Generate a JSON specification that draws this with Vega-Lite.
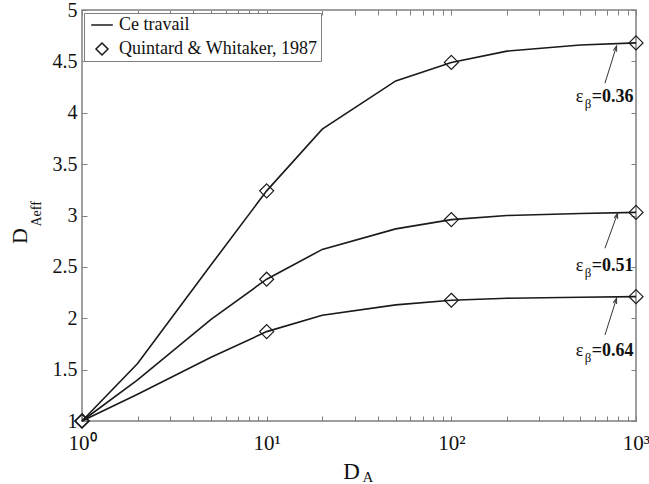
{
  "$schema": "https://vega.github.io/schema/vega-lite/v6.json",
  "width": 554,
  "height": 411,
  "autosize": "none",
  "padding": {"left": 82, "top": 10, "right": 13, "bottom": 63},
  "config": {
    "font": "Liberation Serif",
    "view": {"stroke": "#808080", "strokeWidth": 1.5},
    "axis": {
      "labelFont": "Liberation Serif, serif",
      "labelColor": "#111111",
      "labelFontSize": 20,
      "tickColor": "#808080",
      "tickWidth": 1,
      "tickSize": 5,
      "grid": false,
      "domain": false,
      "titleFont": "Liberation Serif",
      "titleFontWeight": "normal",
      "titleColor": "#111111"
    },
    "text": {"font": "Liberation Serif", "color": "#111111"},
    "legend": {"labelFont": "Liberation Serif"}
  },
  "datasets": {
    "curves": [
      {"D_A": 1, "D_Aeff": 1, "eps": "0.36", "source": "Ce travail"},
      {"D_A": 2, "D_Aeff": 1.56, "eps": "0.36", "source": "Ce travail"},
      {"D_A": 5, "D_Aeff": 2.52, "eps": "0.36", "source": "Ce travail"},
      {"D_A": 10, "D_Aeff": 3.24, "eps": "0.36", "source": "Ce travail"},
      {"D_A": 20, "D_Aeff": 3.84, "eps": "0.36", "source": "Ce travail"},
      {"D_A": 50, "D_Aeff": 4.31, "eps": "0.36", "source": "Ce travail"},
      {"D_A": 100, "D_Aeff": 4.49, "eps": "0.36", "source": "Ce travail"},
      {"D_A": 200, "D_Aeff": 4.60, "eps": "0.36", "source": "Ce travail"},
      {"D_A": 500, "D_Aeff": 4.66, "eps": "0.36", "source": "Ce travail"},
      {"D_A": 1000, "D_Aeff": 4.68, "eps": "0.36", "source": "Ce travail"},
      {"D_A": 1, "D_Aeff": 1, "eps": "0.51", "source": "Ce travail"},
      {"D_A": 2, "D_Aeff": 1.40, "eps": "0.51", "source": "Ce travail"},
      {"D_A": 5, "D_Aeff": 1.99, "eps": "0.51", "source": "Ce travail"},
      {"D_A": 10, "D_Aeff": 2.38, "eps": "0.51", "source": "Ce travail"},
      {"D_A": 20, "D_Aeff": 2.67, "eps": "0.51", "source": "Ce travail"},
      {"D_A": 50, "D_Aeff": 2.87, "eps": "0.51", "source": "Ce travail"},
      {"D_A": 100, "D_Aeff": 2.96, "eps": "0.51", "source": "Ce travail"},
      {"D_A": 200, "D_Aeff": 3.00, "eps": "0.51", "source": "Ce travail"},
      {"D_A": 500, "D_Aeff": 3.02, "eps": "0.51", "source": "Ce travail"},
      {"D_A": 1000, "D_Aeff": 3.03, "eps": "0.51", "source": "Ce travail"},
      {"D_A": 1, "D_Aeff": 1, "eps": "0.64", "source": "Ce travail"},
      {"D_A": 2, "D_Aeff": 1.26, "eps": "0.64", "source": "Ce travail"},
      {"D_A": 5, "D_Aeff": 1.62, "eps": "0.64", "source": "Ce travail"},
      {"D_A": 10, "D_Aeff": 1.87, "eps": "0.64", "source": "Ce travail"},
      {"D_A": 20, "D_Aeff": 2.03, "eps": "0.64", "source": "Ce travail"},
      {"D_A": 50, "D_Aeff": 2.13, "eps": "0.64", "source": "Ce travail"},
      {"D_A": 100, "D_Aeff": 2.175, "eps": "0.64", "source": "Ce travail"},
      {"D_A": 200, "D_Aeff": 2.195, "eps": "0.64", "source": "Ce travail"},
      {"D_A": 500, "D_Aeff": 2.205, "eps": "0.64", "source": "Ce travail"},
      {"D_A": 1000, "D_Aeff": 2.21, "eps": "0.64", "source": "Ce travail"}
    ],
    "points": [
      {"D_A": 1, "D_Aeff": 1, "eps": "0.36", "source": "Quintard & Whitaker, 1987"},
      {"D_A": 10, "D_Aeff": 3.24, "eps": "0.36", "source": "Quintard & Whitaker, 1987"},
      {"D_A": 100, "D_Aeff": 4.49, "eps": "0.36", "source": "Quintard & Whitaker, 1987"},
      {"D_A": 1000, "D_Aeff": 4.68, "eps": "0.36", "source": "Quintard & Whitaker, 1987"},
      {"D_A": 1, "D_Aeff": 1, "eps": "0.51", "source": "Quintard & Whitaker, 1987"},
      {"D_A": 10, "D_Aeff": 2.38, "eps": "0.51", "source": "Quintard & Whitaker, 1987"},
      {"D_A": 100, "D_Aeff": 2.96, "eps": "0.51", "source": "Quintard & Whitaker, 1987"},
      {"D_A": 1000, "D_Aeff": 3.03, "eps": "0.51", "source": "Quintard & Whitaker, 1987"},
      {"D_A": 1, "D_Aeff": 1, "eps": "0.64", "source": "Quintard & Whitaker, 1987"},
      {"D_A": 10, "D_Aeff": 1.87, "eps": "0.64", "source": "Quintard & Whitaker, 1987"},
      {"D_A": 100, "D_Aeff": 2.175, "eps": "0.64", "source": "Quintard & Whitaker, 1987"},
      {"D_A": 1000, "D_Aeff": 2.21, "eps": "0.64", "source": "Quintard & Whitaker, 1987"}
    ],
    "labels": [
      {"eps": "0.36", "label": "=0.36", "D_A": 968, "D_Aeff": 4.153},
      {"eps": "0.51", "label": "=0.51", "D_A": 968, "D_Aeff": 2.513},
      {"eps": "0.64", "label": "=0.64", "D_A": 968, "D_Aeff": 1.686}
    ],
    "arrows": [
      {"eps": "0.36", "x_from": 679, "y_from": 4.287, "x_to": 785, "y_to": 4.65},
      {"eps": "0.51", "x_from": 679, "y_from": 2.681, "x_to": 795, "y_to": 3.021},
      {"eps": "0.64", "x_from": 679, "y_from": 1.837, "x_to": 785, "y_to": 2.194}
    ]
  },
  "resolve": {"axis": {"x": "independent", "y": "independent"}},
  "layer": [
    {
      "data": {"name": "curves"},
      "mark": {"type": "line", "strokeWidth": 1.6},
      "encoding": {
        "x": {
          "field": "D_A", "type": "quantitative",
          "scale": {"type": "log", "domain": [1, 1000], "nice": false},
          "axis": {
            "orient": "bottom",
            "offset": -5,
            "values": [1,2,3,4,5,6,7,8,9,10,20,30,40,50,60,70,80,90,100,200,300,400,500,600,700,800,900,1000],
            "labelExpr": "datum.value == 1 ? '10⁰' : datum.value == 10 ? '10¹' : datum.value == 100 ? '10²' : datum.value == 1000 ? '10³' : ''",
            "labelFont": "Liberation Serif, serif",
            "labelFontSize": 21,
            "labelOverlap": false,
            "labelFlush": false,
            "labelBound": false,
            "labelPadding": 11,
            "title": "D",
            "titleFont": "Liberation Serif",
            "titleFontSize": 23,
            "titleX": 269,
            "titleY": 62,
            "titleAlign": "center",
            "titleBaseline": "alphabetic"
          }
        },
        "y": {
          "field": "D_Aeff", "type": "quantitative",
          "scale": {"domain": [1, 5], "nice": false, "zero": false},
          "axis": {
            "orient": "left",
            "offset": -5,
            "values": [1, 1.5, 2, 2.5, 3, 3.5, 4, 4.5, 5],
            "format": "~g",
            "labelFont": "Liberation Serif, serif",
            "labelFontSize": 20,
            "labelFlush": false,
            "labelOverlap": false,
            "labelPadding": 5,
            "title": "D",
            "titleFont": "Liberation Serif",
            "titleFontSize": 22,
            "titleAngle": -90,
            "titleX": -61,
            "titleY": 225.5,
            "titleAlign": "center",
            "titleBaseline": "alphabetic"
          }
        },
        "detail": {"field": "eps"},
        "color": {
          "field": "source", "type": "nominal",
          "scale": {"domain": ["Ce travail", "Quintard & Whitaker, 1987"], "range": ["#1a1a1a", "#1a1a1a"]},
          "legend": {
            "orient": "none", "legendX": 2, "legendY": 3, "title": null,
            "strokeColor": "#808080", "fillColor": "white", "padding": 3,
            "symbolSize": 144, "symbolStrokeWidth": 1.5, "symbolOffset": 6,
            "labelOffset": 8, "labelFontSize": 18, "labelFont": "Liberation Serif", "labelColor": "#111111",
            "labelLimit": 400, "rowPadding": 6, "symbolFillColor": "transparent"
          }
        }
      }
    },
    {
      "data": {"name": "points"},
      "mark": {"type": "point", "filled": false, "strokeWidth": 1.2, "opacity": 1},
      "encoding": {
        "x": {
          "field": "D_A", "type": "quantitative",
          "axis": {
            "orient": "top",
            "offset": -5,
            "values": [1,2,3,4,5,6,7,8,9,10,20,30,40,50,60,70,80,90,100,200,300,400,500,600,700,800,900,1000],
            "labels": false, "title": null
          }
        },
        "y": {
          "field": "D_Aeff", "type": "quantitative",
          "axis": {
            "orient": "right",
            "offset": -5,
            "values": [1, 1.5, 2, 2.5, 3, 3.5, 4, 4.5, 5],
            "labels": false, "title": null
          }
        },
        "color": {"field": "source", "type": "nominal"},
        "shape": {
          "field": "source", "type": "nominal",
          "scale": {"domain": ["Ce travail", "Quintard & Whitaker, 1987"], "range": ["M-1.8,0L1.8,0", "M0,-1L1,0L0,1L-1,0Z"]},
          "legend": {
            "orient": "none", "legendX": 2, "legendY": 3, "title": null,
            "strokeColor": "#808080", "fillColor": "white", "padding": 3,
            "symbolSize": 144, "symbolStrokeWidth": 1.5, "symbolOffset": 6,
            "labelOffset": 8, "labelFontSize": 18, "labelFont": "Liberation Serif", "labelColor": "#111111",
            "labelLimit": 400, "rowPadding": 6, "symbolFillColor": "transparent"
          }
        },
        "size": {"value": 196}
      }
    },
    {
      "data": {"name": "arrows"},
      "mark": {"type": "rule", "color": "#333333", "strokeWidth": 1},
      "encoding": {
        "x": {
          "field": "x_from", "type": "quantitative",
          "axis": {
            "orient": "bottom", "labels": false, "ticks": false, "domain": false,
            "title": "A", "titleFont": "Liberation Serif", "titleFontSize": 15, "titleX": 280, "titleY": 60,
            "titleAlign": "left", "titleBaseline": "alphabetic"
          }
        },
        "y": {
          "field": "y_from", "type": "quantitative",
          "axis": {
            "orient": "left", "labels": false, "ticks": false, "domain": false,
            "title": "Aeff", "titleFont": "Liberation Serif", "titleFontSize": 14, "titleAngle": -90,
            "titleX": -42, "titleY": 216, "titleAlign": "left", "titleBaseline": "alphabetic"
          }
        },
        "x2": {"field": "x_to"},
        "y2": {"field": "y_to"}
      }
    },
    {
      "data": {"name": "arrows"},
      "mark": {"type": "point", "shape": "M-0.6,1.8L0,0L0.6,1.8", "filled": false, "stroke": "#333333", "strokeWidth": 1, "size": 36, "angle": 18, "opacity": 1},
      "encoding": {
        "x": {"field": "x_to", "type": "quantitative", "axis": null},
        "y": {"field": "y_to", "type": "quantitative", "axis": null}
      }
    },
    {
      "data": {"name": "labels"},
      "mark": {"type": "text", "font": "Liberation Serif", "fontSize": 18, "fontWeight": "bold", "align": "right", "baseline": "middle", "color": "#111111", "fill": "#111111", "opacity": 1},
      "encoding": {
        "x": {"field": "D_A", "type": "quantitative", "axis": null},
        "y": {"field": "D_Aeff", "type": "quantitative", "axis": null},
        "text": {"field": "label"}
      }
    },
    {
      "data": {"name": "labels"},
      "mark": {"type": "text", "font": "Liberation Serif", "fontSize": 13, "align": "right", "baseline": "middle", "dx": -42, "dy": 7, "color": "#111111", "fill": "#111111", "opacity": 1},
      "encoding": {
        "x": {"field": "D_A", "type": "quantitative", "axis": null},
        "y": {"field": "D_Aeff", "type": "quantitative", "axis": null},
        "text": {"value": "β"}
      }
    },
    {
      "data": {"name": "labels"},
      "mark": {"type": "text", "font": "Liberation Serif", "fontSize": 18, "align": "right", "baseline": "middle", "dx": -50, "color": "#111111", "fill": "#111111", "opacity": 1},
      "encoding": {
        "x": {"field": "D_A", "type": "quantitative", "axis": null},
        "y": {"field": "D_Aeff", "type": "quantitative", "axis": null},
        "text": {"value": "ε"}
      }
    }
  ]
}
